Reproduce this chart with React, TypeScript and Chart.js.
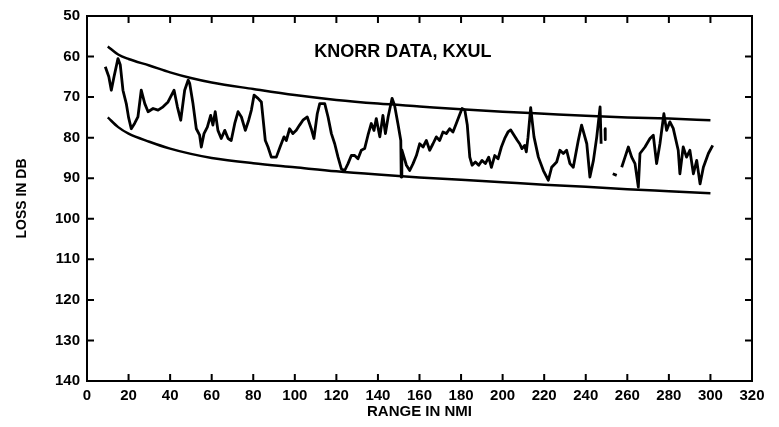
import React, { useEffect, useRef } from "react";
import { Chart, registerables } from "chart.js";

Chart.register(...registerables);

// Envelope curves (range in nmi, loss in dB)
const envX = [10, 15, 20, 30, 40, 50, 60, 80, 100, 120, 140, 160, 180, 200, 220, 240, 260, 280, 300];
const upperLoss = [57.5, 59.5, 60.6, 62.2, 63.9, 65.3, 66.4, 68.0, 69.5, 70.7, 71.6, 72.3, 73.0, 73.6, 74.1, 74.6, 75.0, 75.3, 75.7];
const lowerLoss = [75.0, 77.4, 79.0, 81.0, 82.7, 84.0, 85.0, 86.3, 87.3, 88.3, 89.1, 89.8, 90.4, 91.0, 91.6, 92.1, 92.7, 93.2, 93.7];

// Measured loss, null = gap in the record
const rangeNmi = [
  8.8, 10.5, 11.7, 13, 14.9, 16, 17.3, 18.9, 20, 21.3, 22.9, 24.5, 26.1, 27.8, 29.4, 31.8, 34.2, 36.6, 39, 41.9,
  43.5, 45.1, 47, 48.7, 49.4, 51, 52.6, 54.2, 55, 56.3, 57.9, 59.5, 60.6, 61.7, 63, 64.6, 66.3, 67.9, 69.4, 71.1,
  72.7, 74.3, 76.2, 77.8, 79.1, 80.4, 82.3, 83.9, 85.8, 87.1, 88.7, 91.1, 92.9, 93.5, 94.8, 95.9, 97.5, 99.1, 100.7, 102.3,
  103.9, 106, 107.9, 109.2, 110.8, 112, 114.4, 116, 117.6, 119.2, 120.8, 122.4, 124, 125.6, 127.2, 128.8, 130.4, 132, 133.6, 135.2,
  136.8, 138.1, 139.2, 140.9, 142.4, 143.6, 144.9, 146.8, 148, 149.6, 151, 151.2, 151.5, 153.7, 155.3, 156.9, 158.5, 160.1, 161.7, 163.3,
  164.9, 166.5, 168.1, 169.7, 171.3, 172.9, 174.5, 176.1, 177.7, 179.5, 180.5, 181.8, 183, 184.2, 185.3, 186.9, 188.5, 190.1, 191.7, 193.3,
  194.6, 196.2, 197.8, 199.4, 201, 202.6, 203.9, 205.5, 207.1, 208.2, 209.3, 210.6, 211.4, 212.2, 213.5, 215.1, 217.2, 219.6, 222, 223.6,
  226, 227.6, 229.2, 230.8, 232.4, 234, 236.4, 238, 240.5, 242, 243.7, 245.3, 246.9, 247.4, 248.3, 249.3, 249.4, 251, 253, 254.9,
  256, 257.3, 258.9, 260.5, 262.1, 263.7, 265.3, 266.1, 268.5, 270.9, 272.5, 274.1, 275.7, 277.6, 278.9, 280.5, 282.1, 284.5, 285.3, 286.9,
  288.5, 290.1, 291.8, 293.4, 295, 296.6, 299, 301.1,
];
const lossDb = [
  62.5, 65, 68.3, 65, 60.5, 62, 68.3, 71.6, 75, 77.8, 76.5, 74.9, 68.3, 71.6, 73.6, 72.8, 73.2, 72.4, 71.2, 68.3,
  72.4, 75.7, 68.3, 65.8, 66.6, 71.6, 77.8, 79.4, 82.3, 79, 77.4, 74.5, 76.9, 73.6, 78.2, 80.2, 78.2, 80.2, 80.7, 76.5,
  73.6, 74.9, 78.2, 75.7, 73.2, 69.5, 70.3, 71.2, 80.7, 82.3, 84.8, 84.8, 82.3, 81.5, 79.8, 80.7, 77.8, 79, 78.2, 76.9,
  75.7, 74.9, 77.8, 80.2, 74.1, 71.6, 71.6, 74.9, 79, 81.5, 84.8, 87.7, 88.1, 86.4, 84.4, 84.4, 85.2, 83.1, 82.7, 79.4,
  76.5, 78.2, 75.3, 79.8, 74.5, 79, 74.9, 70.3, 72, 76.5, 80.7, 89.7, 83, 86.8, 88.1, 86.4, 84.4, 81.5, 82.3, 80.7,
  83.1, 81.5, 79.8, 80.7, 78.6, 79, 77.8, 78.6, 76.5, 74.1, 72.8, 73.2, 76.9, 84.8, 86.8, 86, 86.8, 85.6, 86.4, 84.8,
  87.3, 84.4, 85.2, 82.3, 80.2, 78.6, 78.1, 79.4, 80.7, 81.5, 82.7, 81.9, 83.5, 80, 72.6, 79.8, 84.8, 88.1, 90.5, 87.3,
  86, 83.1, 83.9, 83.1, 86.4, 87.3, 80.7, 76.9, 81.5, 89.7, 85.6, 79.8, 72.4, 81.5, null, 77.8, 80.5, null, 88.9, 89.3,
  null, 87.3, 84.8, 82.3, 84.8, 86.4, 92.2, 83.9, 82.3, 80.2, 79.4, 86.4, 81.5, 74.1, 78.2, 76.1, 77.7, 83.1, 88.9, 82.3,
  84.8, 83.1, 88.9, 85.6, 91.4, 87.3, 83.9, 81.9,
];

const xTicks = [0, 20, 40, 60, 80, 100, 120, 140, 160, 180, 200, 220, 240, 260, 280, 300, 320];
const yTicks = [50, 60, 70, 80, 90, 100, 110, 120, 130, 140];

const chartTitle = "KNORR DATA, KXUL";
const xTitle = "RANGE IN NMI";
const yTitle = "LOSS IN DB";

const FONT = "'Liberation Sans', Arial, Helvetica, sans-serif";

const framePlugin = {
  id: "frameTicks",
  beforeDraw(chart: any) {
    const ctx = chart.ctx;
    ctx.save();
    ctx.fillStyle = "#ffffff";
    ctx.fillRect(0, 0, chart.width, chart.height);
    ctx.restore();
  },
  afterDraw(chart: any) {
    const { ctx, chartArea } = chart;
    const xs = chart.scales.x;
    const ys = chart.scales.y;
    const { left, right, top, bottom } = chartArea;
    ctx.save();
    ctx.strokeStyle = "#000";
    ctx.lineWidth = 2;
    ctx.strokeRect(left, top, right - left, bottom - top);
    const len = 7;
    ctx.beginPath();
    xTicks.forEach((v) => {
      const px = xs.getPixelForValue(v);
      ctx.moveTo(px, bottom);
      ctx.lineTo(px, bottom - len);
      ctx.moveTo(px, top);
      ctx.lineTo(px, top + len);
    });
    yTicks.forEach((v) => {
      const py = ys.getPixelForValue(v);
      ctx.moveTo(left, py);
      ctx.lineTo(left + len, py);
      ctx.moveTo(right, py);
      ctx.lineTo(right - len, py);
    });
    ctx.stroke();
    ctx.fillStyle = "#000";
    ctx.font = `bold 18px ${FONT}`;
    ctx.textAlign = "center";
    ctx.textBaseline = "middle";
    ctx.fillText(chartTitle, xs.getPixelForValue(152), ys.getPixelForValue(59));
    ctx.restore();
  },
};

export default function App() {
  const ref = useRef<HTMLCanvasElement | null>(null);

  useEffect(() => {
    if (!ref.current) return;
    const points = rangeNmi.map((x, i) => ({ x, y: lossDb[i] }));
    const up = envX.map((x, i) => ({ x, y: upperLoss[i] }));
    const lo = envX.map((x, i) => ({ x, y: lowerLoss[i] }));
    const chart = new Chart(ref.current, {
      type: "line",
      data: {
        datasets: [
          {
            label: "Upper",
            data: up,
            borderColor: "#000",
            borderWidth: 2.5,
            pointRadius: 0,
            cubicInterpolationMode: "monotone",
            fill: false,
          },
          {
            label: "Lower",
            data: lo,
            borderColor: "#000",
            borderWidth: 2.5,
            pointRadius: 0,
            cubicInterpolationMode: "monotone",
            fill: false,
          },
          {
            label: "Loss",
            data: points as any,
            borderColor: "#000",
            borderWidth: 2.8,
            pointRadius: 0,
            tension: 0,
            spanGaps: false,
            borderJoinStyle: "round",
            fill: false,
          },
        ],
      },
      options: {
        responsive: false,
        animation: false,
        layout: { padding: { top: 16, right: 27, left: 0, bottom: 0 } },
        plugins: { legend: { display: false }, tooltip: { enabled: false }, title: { display: false } },
        scales: {
          x: {
            type: "linear",
            min: 0,
            max: 320,
            afterFit: (s: any) => {
              s.height = 46;
            },
            afterBuildTicks: (s: any) => {
              s.ticks = xTicks.map((v) => ({ value: v }));
            },
            grid: { display: false, drawTicks: false },
            border: { display: false },
            ticks: {
              color: "#000",
              padding: 6,
              maxRotation: 0,
              autoSkip: false,
              font: { family: FONT, size: 15, weight: "bold" },
            },
            title: {
              display: true,
              text: xTitle,
              color: "#000",
              padding: { top: 0, bottom: 6 },
              font: { family: FONT, size: 15, weight: "bold" },
            },
          },
          y: {
            type: "linear",
            reverse: true,
            min: 50,
            max: 140,
            afterFit: (s: any) => {
              s.width = 87;
            },
            afterBuildTicks: (s: any) => {
              s.ticks = yTicks.map((v) => ({ value: v }));
            },
            grid: { display: false, drawTicks: false },
            border: { display: false },
            ticks: {
              color: "#000",
              padding: 7,
              autoSkip: false,
              font: { family: FONT, size: 15, weight: "bold" },
            },
            title: {
              display: true,
              text: yTitle,
              color: "#000",
              padding: { top: 14, bottom: 0 },
              font: { family: FONT, size: 14, weight: "bold" },
            },
          },
        },
      },
      plugins: [framePlugin],
    } as any);
    return () => chart.destroy();
  }, []);

  return (
    <div style={{ position: "fixed", left: 0, top: 0, width: 779, height: 427, background: "#fff" }}>
      <canvas ref={ref} width={779} height={427} style={{ display: "block" }} />
    </div>
  );
}
